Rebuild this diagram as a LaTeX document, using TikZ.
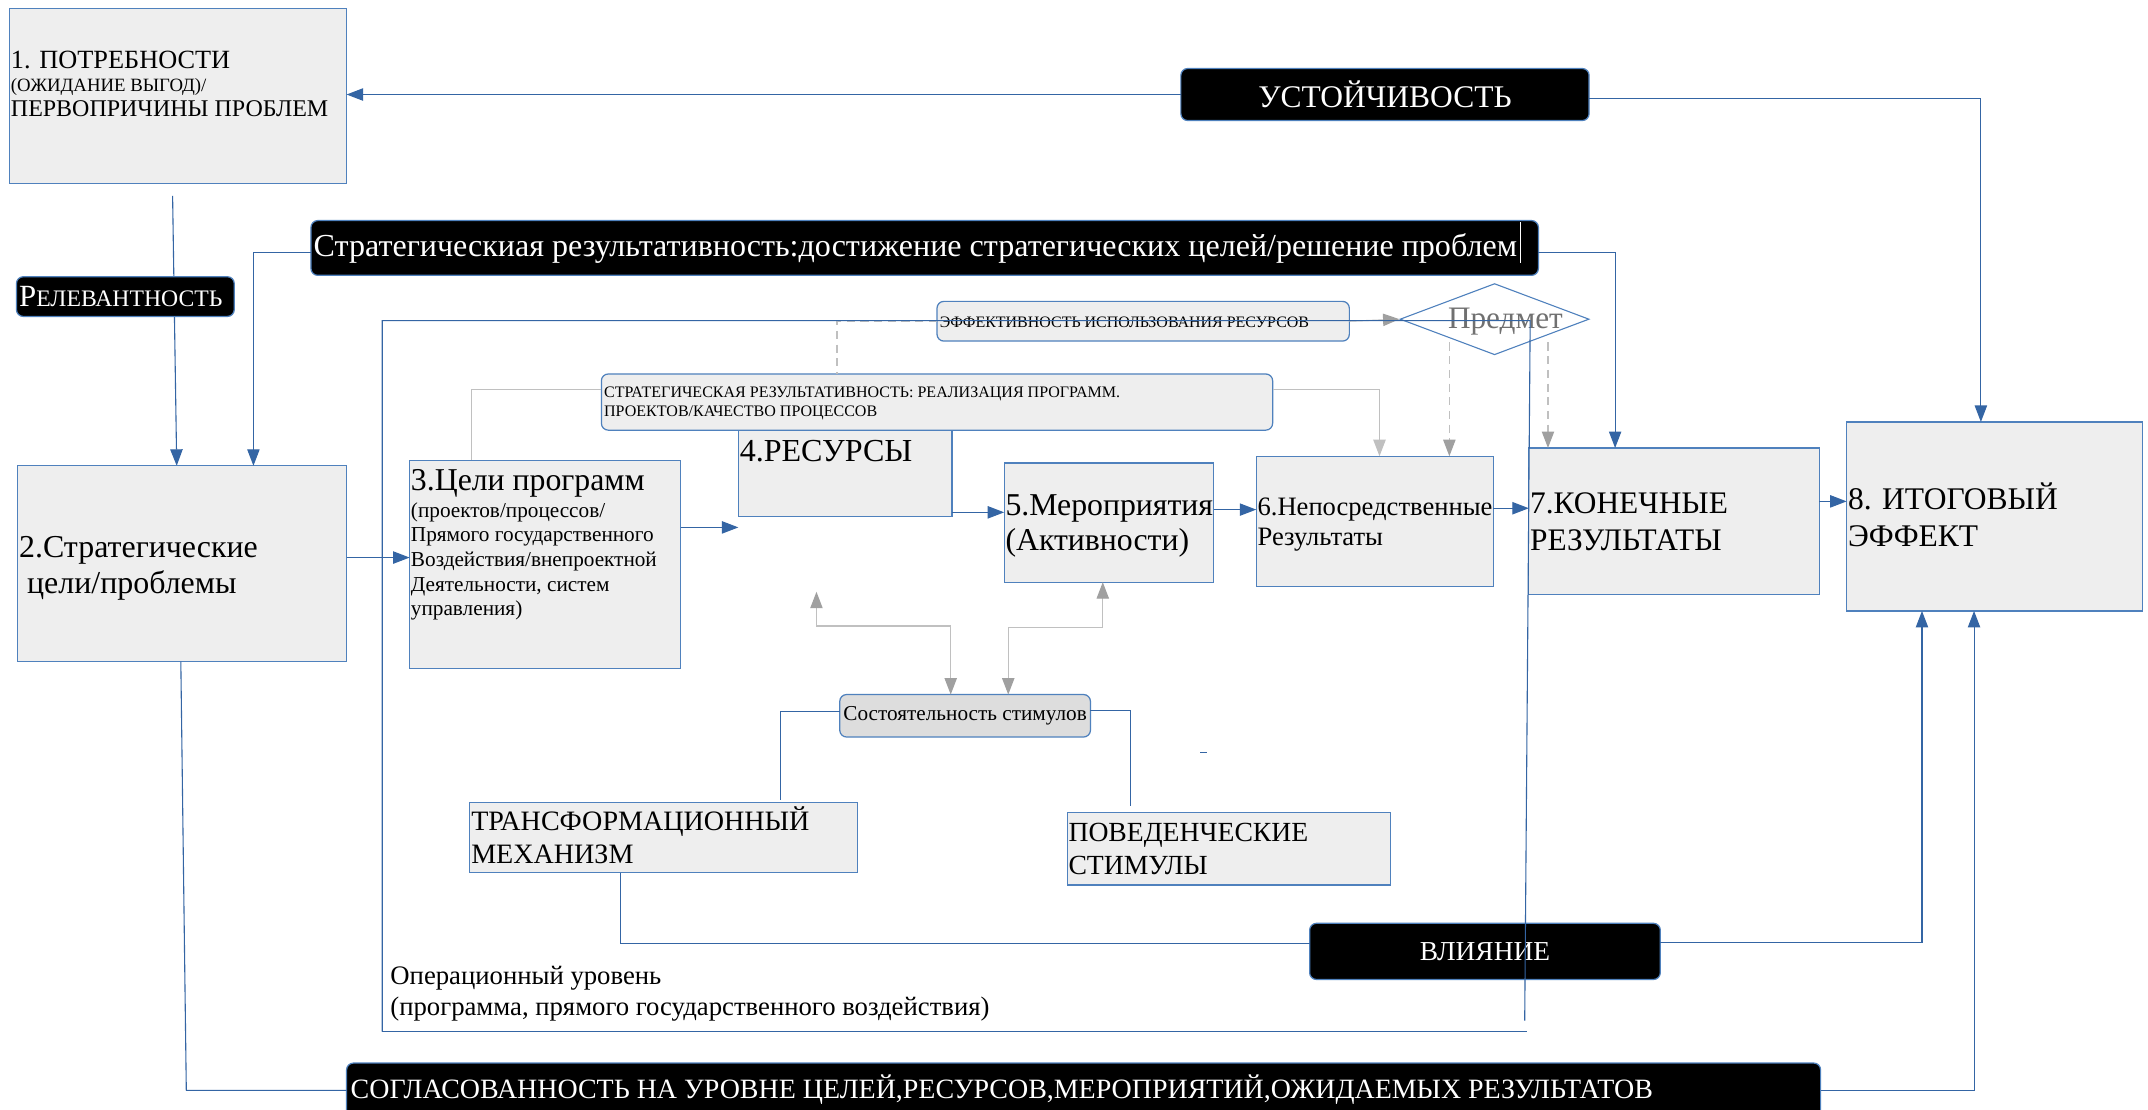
\documentclass[tikz,border=0pt]{standalone}
\usepackage{fontspec}
\setmainfont{Liberation Serif}
\usetikzlibrary{arrows.meta,calc,shapes.geometric}
\definecolor{lineblue}{HTML}{3465A4}
\definecolor{bord}{HTML}{4F81BD}
\definecolor{boxfill}{HTML}{EEEEEE}
\definecolor{sostfill}{HTML}{DDDDDD}
\definecolor{lgray}{HTML}{C0C0C0}
\definecolor{mgray}{HTML}{A0A0A0}
\definecolor{predgray}{HTML}{707070}
\pgfdeclarelayer{back}
\pgfdeclarelayer{bg}
\pgfsetlayers{back,bg,main}
\newcommand\fsz[2]{\fontsize{#1pt}{#2pt}\selectfont}
\newcommand\mlines[1]{\begin{tabular}[t]{@{}l@{}}#1\end{tabular}}
\begin{document}
\begin{tikzpicture}[x=1pt,y=-1pt,
 gbox/.style={draw=bord, fill=boxfill, line width=0.9pt, inner sep=0pt, outer sep=0pt, anchor=north west},
 rbox/.style={gbox, rounded corners=5pt},
 blbox/.style={draw=bord, fill=black, text=white, rounded corners=5pt, line width=0.9pt, inner sep=0pt, outer sep=0pt, anchor=north west},
 txt/.style={anchor=base west, inner sep=0pt, outer sep=0pt},
 conn/.style={draw=lineblue, line width=0.8pt},
 arr/.style={conn, -{Triangle[length=12pt,width=9pt]}},
 gdarr/.style={draw=lgray, line width=0.8pt, {Triangle[length=12pt,width=9pt,color=mgray]}-{Triangle[length=12pt,width=9pt,color=mgray]}},
 garr/.style={draw=lgray, line width=0.8pt, -{Triangle[length=12pt,width=9pt,color=mgray]}},
 lgline/.style={draw=lgray, line width=0.8pt},
 lgarr/.style={draw=lgray, line width=0.8pt, -{Triangle[length=12pt,width=9pt,color=lgray]}},
 gdash/.style={draw=lgray, line width=0.8pt, dash pattern=on 6pt off 4pt},
 gdasharr/.style={gdash, -{Triangle[length=12pt,width=9pt,color=mgray]}}
]
\begin{pgfonlayer}{back}
\fill[white] (0,0) rectangle (1568,810);
\end{pgfonlayer}
\useasboundingbox (0,0) rectangle (1568,810);

% box 1
\node[gbox, minimum width=246pt, minimum height=128pt] (n1) at (7,6) {};
\node[txt, font=\fsz{19.2}{23}] (t1a) at (8,50) {1. ПОТРЕБНОСТИ};
\node[txt, font=\fsz{13.7}{16}] (t1b) at (8,67) {(ОЖИДАНИЕ ВЫГОД)/};
\node[txt, font=\fsz{17.5}{20}] (t1c) at (8,85) {ПЕРВОПРИЧИНЫ ПРОБЛЕМ};

\node[blbox, minimum width=298pt, minimum height=38pt, font=\fsz{23}{27}] (ust) at (862,50) {УСТОЙЧИВОСТЬ};

\node[blbox, minimum width=159pt, minimum height=29pt] (rel) at (12,202) {};
\node[txt, text=white] (trel) at (14,224) {{\fsz{22.5}{22}Р}{\fsz{17.3}{18}ЕЛЕВАНТНОСТЬ}};

\node[blbox, minimum width=896pt, minimum height=40pt] (strat) at (227,161) {};
\node[txt, text=white, font=\fsz{23.4}{27}] (tstrat) at (229,187) {Стратегическиая результативность:достижение стратегических целей/решение проблем};
\draw[white, line width=0.6pt] (1110,162) -- (1110,192);

\node[gbox, minimum width=240pt, minimum height=143pt] (n2) at (13,340) {};
\node[txt, font=\fsz{23.3}{26.6}] (t2) at (14,407) {\mlines{2.Стратегические\\\ цели/проблемы}};

\node[gbox, minimum width=198pt, minimum height=152pt] (n3) at (299,336) {};
\node[txt, font=\fsz{23.2}{27}] (t3a) at (300,358) {3.Цели программ};
\node[txt, font=\fsz{15.5}{18}] (t3b) at (300,377.6) {\mlines{(проектов/процессов/\\Прямого государственного\\Воздействия/внепроектной\\Деятельности, систем\\управления)}};

\node[gbox, minimum width=156pt, minimum height=77pt] (n4) at (539,300) {};
\node[txt, font=\fsz{23.4}{27}] (t4) at (540,337) {4.РЕСУРСЫ};

\node[gbox, minimum width=153pt, minimum height=87pt] (n5) at (733,338) {};
\node[txt, font=\fsz{23.2}{25.5}] (t5) at (734,376) {\mlines{5.Мероприятия\\(Активности)}};

\node[gbox, minimum width=173pt, minimum height=95pt] (n6) at (917,333) {};
\node[txt, font=\fsz{19.4}{22}] (t6) at (918,376) {\mlines{6.Непосредственные\\Результаты}};

\node[gbox, minimum width=212pt, minimum height=107pt] (n7) at (1116,327) {};
\node[txt, font=\fsz{22.9}{27}] (t7) at (1117,375) {\mlines{7.КОНЕЧНЫЕ\\РЕЗУЛЬТАТЫ}};

\node[gbox, minimum width=216pt, minimum height=138pt] (n8) at (1348,308) {};
\node[txt, font=\fsz{23}{27}] (t8) at (1349,372) {\mlines{8. ИТОГОВЫЙ\\ЭФФЕКТ}};

\node[rbox, minimum width=301pt, minimum height=29pt] (eff) at (684,220) {};
\node[txt, font=\fsz{11.65}{13}] (teff) at (686,239) {ЭФФЕКТИВНОСТЬ ИСПОЛЬЗОВАНИЯ РЕСУРСОВ};

\node[rbox, minimum width=490pt, minimum height=41pt] (sr) at (439,273) {};
\node[txt, font=\fsz{11.7}{13.5}] (tsr) at (441,290.5) {\mlines{СТРАТЕГИЧЕСКАЯ РЕЗУЛЬТАТИВНОСТЬ: РЕАЛИЗАЦИЯ ПРОГРАММ.\\ПРОЕКТОВ/КАЧЕСТВО ПРОЦЕССОВ}};

\node[diamond, draw=bord, line width=0.8pt, minimum width=138pt, minimum height=52pt, inner sep=0pt] (pred) at (1091,233) {};
\node[txt, text=predgray, font=\fsz{22.8}{26}] (tpred) at (1057,240) {Предмет};

\node[rbox, fill=sostfill, minimum width=183pt, minimum height=31pt, font=\fsz{15.5}{18}] (sost) at (613,507) {Состоятельность стимулов};

\node[gbox, minimum width=283pt, minimum height=51pt] (tr) at (343,586) {};
\node[txt, font=\fsz{20.5}{24}] (ttr) at (344,606) {\mlines{ТРАНСФОРМАЦИОННЫЙ\\МЕХАНИЗМ}};

\node[gbox, minimum width=236pt, minimum height=53pt] (pov) at (779,593) {};
\node[txt, font=\fsz{20.2}{24}] (tpov) at (780,614) {\mlines{ПОВЕДЕНЧЕСКИЕ\\СТИМУЛЫ}};

\node[blbox, minimum width=256pt, minimum height=41pt, font=\fsz{20}{24}] (vl) at (956,674) {ВЛИЯНИЕ};

\node[blbox, minimum width=1076pt, minimum height=44pt] (sogl) at (253,776) {};
\node[txt, text=white, font=\fsz{20.4}{24}] (tsogl) at (256,802) {СОГЛАСОВАННОСТЬ НА УРОВНЕ ЦЕЛЕЙ,РЕСУРСОВ,МЕРОПРИЯТИЙ,ОЖИДАЕМЫХ РЕЗУЛЬТАТОВ};

\node[txt, font=\fsz{19.5}{22.5}] (topl) at (285,718.5) {\mlines{Операционный уровень\\(программа, прямого государственного воздействия)}};

% connectors
\begin{pgfonlayer}{bg}
\draw[arr] ($(n1.south west)+(119,9)$) -- ($(n2.north west)+(116,0)$);
\end{pgfonlayer}
\draw[arr] (ust.west) -- (ust.west -| n1.east);
\draw[arr] ($(ust.east)+(0,3)$) -| ($(n8.north west)+(98,0)$);
\draw[arr] ($(strat.west)+(0,3)$) -| ($(n2.north west)+(172,0)$);
\draw[arr] ($(strat.east)+(0,3)$) -| ($(n7.north west)+(63,0)$);
\coordinate (c23) at ($(n2.north east)+(0,67)$);
\draw[arr] (c23) -- (c23 -| n3.west);
\coordinate (c34) at (539,385);
\draw[arr] (c34 -| n3.east) -- (c34);
\coordinate (c45) at ($(n4.south east)+(0,-3)$);
\draw[arr] (c45) -- (c45 -| n5.west);
\coordinate (c56) at ($(n5.north east)+(0,34)$);
\draw[arr] (c56) -- (c56 -| n6.west);
\coordinate (c67) at ($(n6.north east)+(0,38)$);
\draw[arr] (c67) -- (c67 -| n7.west);
\coordinate (c78) at ($(n7.north east)+(0,39)$);
\draw[arr] (c78) -- (c78 -| n8.west);
\draw[arr] ($(vl.east)+(0,-6.5)$) -| ($(n8.south west)+(55,0)$);
\draw[arr] ($(sogl.north east)+(0,20)$) -| ($(n8.south west)+(93,0)$);
\coordinate (c2s) at (136,796);
\draw[conn] ($(n2.south west)+(119,0)$) -- (c2s) -- (c2s -| sogl.west);
\draw[conn] ($(tr.south west)+(110,0)$) |- ($(vl.west)+(0,-5.5)$);
\draw[conn] ($(sost.west)+(0,-3)$) -| ($(tr.north west)+(227,-2)$);
\draw[conn] ($(sost.east)+(0,-4)$) -| ($(pov.north west)+(46,-5)$);
\draw[conn] (876,549) -- (881,549);

\coordinate (g1) at (596,432);
\draw[gdarr] (g1) |- ($(sost.north west)+(81,-50)$) -- ($(sost.north west)+(81,0)$);
\draw[gdarr] ($(n5.south west)+(72,0)$) |- ($(sost.north west)+(123,-49)$) -- ($(sost.north west)+(123,0)$);
\draw[gdash] (eff.west) -| ($(sr.north west)+(172,0)$);
\draw[lgline] ($(sr.north west)+(0,11)$) -| ($(n3.north west)+(45,0)$);
\draw[lgarr] ($(sr.north east)+(0,11)$) -| ($(n6.north west)+(90,0)$);
\draw[garr] (eff.east) -- (pred.west);
\draw[gdasharr] ($(n6.north west)+(141,-83)$) -- ($(n6.north west)+(141,0)$);
\draw[gdasharr] ($(n7.north west)+(14,-77)$) -- ($(n7.north west)+(14,0)$);

% operational frame
\draw[conn] (279,753) -- (279,234) -- (1117,234) -- (1113,745);
\draw[conn] (279,753) -- (1115,753);
\end{tikzpicture}
\end{document}
